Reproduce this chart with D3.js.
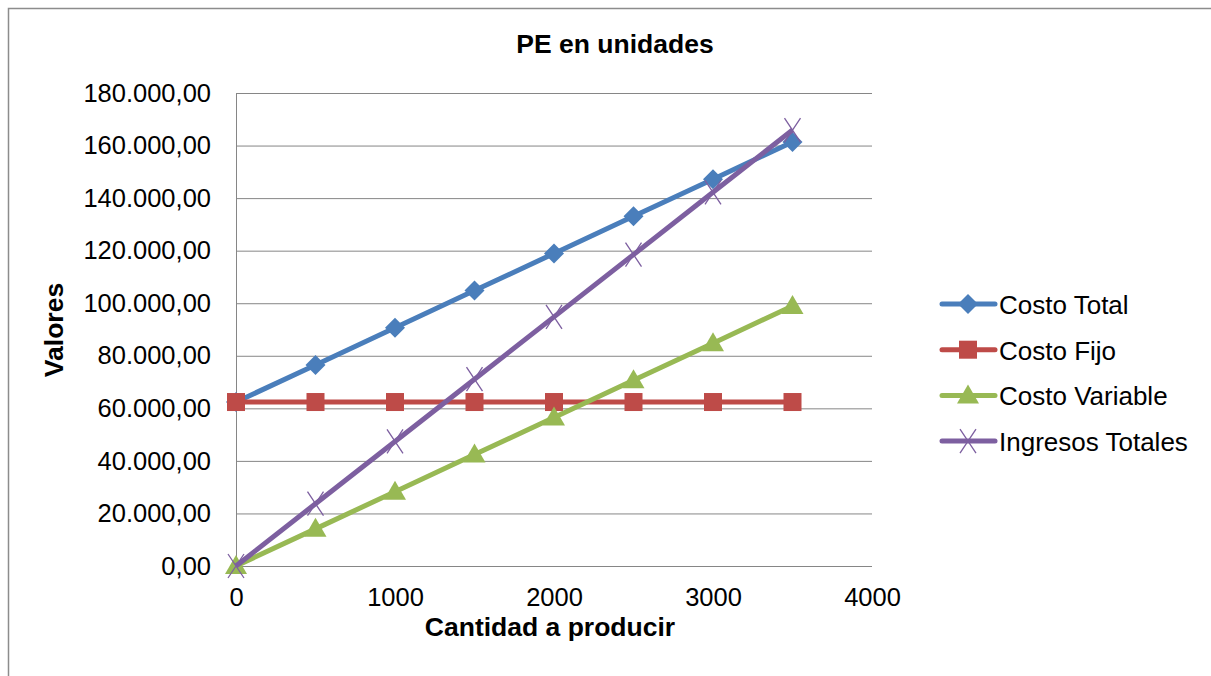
<!DOCTYPE html>
<html><head><meta charset="utf-8">
<script src="https://cdn.jsdelivr.net/npm/d3@7"></script>
<style>body{margin:0;background:#fff}svg{display:block;font-family:"Liberation Sans",Arial,sans-serif}</style>
</head><body><svg id="c" width="1211" height="676"></svg>
<script>
const cantidades = [0, 500, 1000, 1500, 2000, 2500, 3000, 3500];
const costoTotal = [62400, 76530, 90670, 104800, 118940, 133070, 147200, 161340];
const costoFijo = [62400, 62400, 62400, 62400, 62400, 62400, 62400, 62400];
const costoVariable = [0, 14130, 28270, 42400, 56540, 70670, 84800, 98940];
const ingresosTotales = [0, 23700, 47400, 71100, 94800, 118500, 142200, 165900];
const xTicks = [0, 1000, 2000, 3000, 4000];
const yTicks = [0, 20000, 40000, 60000, 80000, 100000, 120000, 140000, 160000, 180000];
const seriesNames = ["Costo Total", "Costo Fijo", "Costo Variable", "Ingresos Totales"];
const seriesColors = ["#4a7ebb", "#be4b48", "#98b954", "#7d5fa0"];
const seriesSymbols = ["diamond", "square", "triangle", "x"];

const series = [costoTotal, costoFijo, costoVariable, ingresosTotales].map((v, i) => ({
  name: seriesNames[i], color: seriesColors[i], sym: seriesSymbols[i],
  pts: cantidades.map((q, j) => [q, v[j]])
}));

const FONT = "Liberation Sans, Arial, sans-serif";
const svg = d3.select("#c");
svg.append("rect").attr("x", 8.5).attr("y", 8.5).attr("width", 1230).attr("height", 700)
  .attr("fill", "#fff").attr("stroke", "#8c8c8c").attr("stroke-width", 1.5);

const L = 236, R = 872, T = 93, B = 566;
const x = d3.scaleLinear().domain([0, 4000]).range([L, R]);
const y = d3.scaleLinear().domain([0, 180000]).range([B, T]);
const fmt = v => d3.format(",.2f")(v).replace(/,/g, "#").replace(/\./g, ",").replace(/#/g, ".");

svg.append("g").selectAll("line").data(yTicks).join("line")
  .attr("x1", L).attr("x2", R).attr("y1", d => y(d) + 0.5).attr("y2", d => y(d) + 0.5)
  .attr("stroke", "#868686").attr("stroke-width", 1);
svg.append("line").attr("x1", L + 0.5).attr("x2", L + 0.5).attr("y1", T).attr("y2", B)
  .attr("stroke", "#868686");

const yAxis = d3.axisLeft(y).tickValues(yTicks).tickFormat(fmt).tickSize(0).tickPadding(25);
const gy = svg.append("g").attr("transform", `translate(${L},0)`).call(yAxis);
gy.select(".domain").remove();
gy.selectAll("text").attr("font-size", 25.5).attr("fill", "#000").attr("font-family", FONT);

const xAxis = d3.axisBottom(x).tickValues(xTicks).tickFormat(d3.format("d")).tickSize(0).tickPadding(22);
const gx = svg.append("g").attr("transform", `translate(0,${B})`).call(xAxis);
gx.select(".domain").remove();
gx.selectAll("text").attr("font-size", 25.5).attr("fill", "#000").attr("font-family", FONT);

svg.append("text").attr("x", 615).attr("y", 53).attr("text-anchor", "middle")
  .attr("font-size", 26.5).attr("font-weight", "bold").text("PE en unidades");
svg.append("text").attr("x", 550).attr("y", 636).attr("text-anchor", "middle")
  .attr("font-size", 26.5).attr("font-weight", "bold").text("Cantidad a producir");
svg.append("text").attr("transform", "translate(63,330) rotate(-90)").attr("text-anchor", "middle")
  .attr("font-size", 26.5).attr("font-weight", "bold").text("Valores");

const line = d3.line().x(d => x(d[0])).y(d => y(d[1]));

function drawMarker(g, sym, color, cx, cy) {
  if (sym === "diamond") {
    g.append("path").attr("d", `M${cx},${cy - 10}L${cx + 10},${cy}L${cx},${cy + 10}L${cx - 10},${cy}Z`).attr("fill", color);
  } else if (sym === "square") {
    g.append("rect").attr("x", cx - 9).attr("y", cy - 9).attr("width", 18).attr("height", 18).attr("fill", color);
  } else if (sym === "triangle") {
    g.append("path").attr("d", `M${cx},${cy - 11}L${cx + 11},${cy + 8}L${cx - 11},${cy + 8}Z`).attr("fill", color);
  } else {
    g.append("path").attr("d", `M${cx - 8},${cy - 12}L${cx + 8},${cy + 12}M${cx + 8},${cy - 12}L${cx - 8},${cy + 12}`)
      .attr("stroke", color).attr("stroke-width", 1.3).attr("fill", "none");
  }
}

const gs = svg.append("g");
series.forEach(s => {
  gs.append("path").datum(s.pts).attr("d", line).attr("fill", "none")
    .attr("stroke", s.color).attr("stroke-width", 5).attr("stroke-linejoin", "round");
  s.pts.forEach(p => drawMarker(gs, s.sym, s.color, x(p[0]), y(p[1])));
});

const lg = svg.append("g");
seriesNames.forEach((n, i) => {
  const ly = 304 + i * 45.7;
  lg.append("line").attr("x1", 942).attr("x2", 995).attr("y1", ly).attr("y2", ly)
    .attr("stroke", seriesColors[i]).attr("stroke-width", 5).attr("stroke-linecap", "round");
  drawMarker(lg, seriesSymbols[i], seriesColors[i], 968, ly);
  lg.append("text").attr("x", 999).attr("y", ly + 10).attr("font-size", 26).text(n);
});
</script></body></html>
